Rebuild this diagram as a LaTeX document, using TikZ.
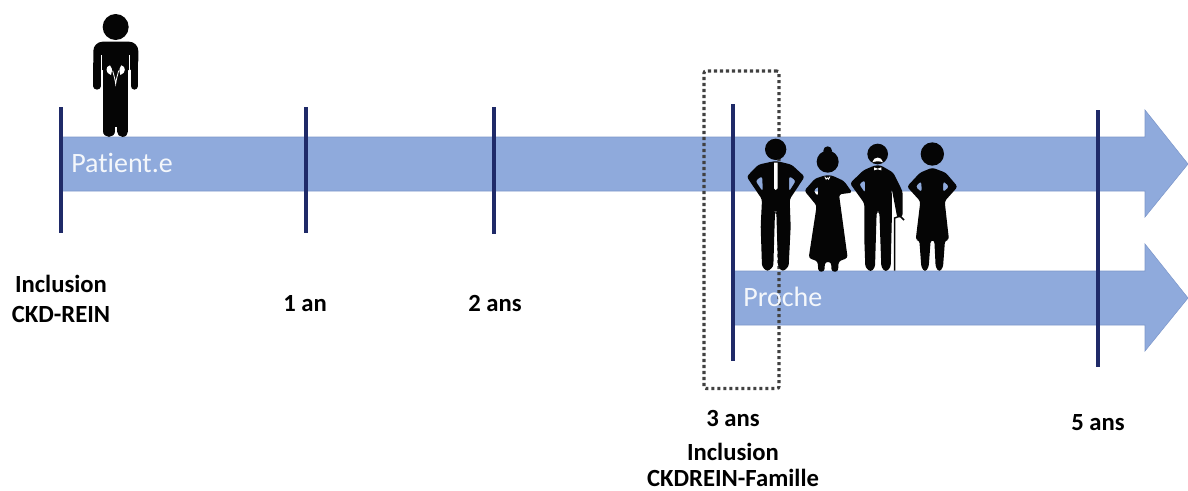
\documentclass[tikz,border=0pt]{standalone}
\usepackage{fontspec}
\setmainfont[Ligatures=NoCommon]{Carlito}
\definecolor{bandblue}{HTML}{8FAADC}
\definecolor{bandedge}{HTML}{7D97CA}
\definecolor{ticknavy}{HTML}{1F2A68}
\definecolor{boxgrey}{HTML}{404040}
\definecolor{figblack}{HTML}{050505}
\tikzset{
  x=0.75pt,y=-0.75pt,
  band/.style={fill=bandblue,draw=bandedge,line width=0.4pt},
  tick/.style={draw=ticknavy,line width=2.3pt},
  datelabel/.style={font=\fontsize{18.5pt}{22pt}\selectfont\bfseries,text=black,inner sep=0pt,anchor=base},
  bandlabel/.style={font=\fontsize{21pt}{25pt}\selectfont,text=white!90!bandblue,inner sep=0pt,anchor=base west},
  fig/.style={fill=figblack,draw=none,even odd rule,rounded corners=2pt},
  figwhite/.style={fill=white,draw=none},
  selbox/.style={draw=boxgrey,line width=2.3pt,dash pattern=on 2.3pt off 2.2pt,rounded corners=1.5pt,outer sep=0pt,inner sep=0pt}
}
\begin{document}
\begin{tikzpicture}
\useasboundingbox (0,0) rectangle (1188,490);
% arrows
\draw[band] (62,137) -- (1145,137) -- (1145,110) -- (1188,164) -- (1145,217) -- (1145,191) -- (62,191) -- cycle;
\draw[band] (733,271) -- (1145,271) -- (1145,244) -- (1188,298) -- (1145,351) -- (1145,325) -- (733,325) -- cycle;
% selection box
\node[selbox,minimum width=56.25pt,minimum height=238.1pt] (sel) at (741.5,229.75) {};
% ticks
\foreach \n/\x/\a/\b in {t0/61/107/233,t1/306/107/233,t2/494/107/234,t3/733/104/361,t5/1098/110/367}{
  \coordinate (\n a) at (\x,\a);
  \coordinate (\n b) at (\x,\b);
  \draw[tick] (\n a) -- (\n b);
}
% labels
\node[bandlabel] (patient) at (71,172.7) {Patient.e};
\node[bandlabel] (proche) at (743,306.7) {Proche};
\node[datelabel] (l0a) at (61,292) {Inclusion};
\node[datelabel] (l0b) at (61,322) {CKD-REIN};
\node[datelabel] (l1) at (305,311) {1 an};
\node[datelabel] (l2) at (495,311) {2 ans};
\node[datelabel] (l3) at (733,426) {3 ans};
\node[datelabel] (l3b) at (733,460) {Inclusion};
\node[datelabel] (l3c) at (733,486.5) {CKDREIN-Famille};
\node[datelabel] (l5) at (1098,430) {5 ans};
% patient figure
\begin{scope}[shift={(60,0)},scale=1/3]
  \fill[figblack] (167,81) circle (39);
  \fill[figblack,rounded corners=7pt] (100,210) -- (100,125) -- (235,125) -- (235,210) -- cycle;
  \draw[figblack,line width=5.5pt,line cap=round] (111,190) -- (111,258);
  \draw[figblack,line width=5.5pt,line cap=round] (223,190) -- (223,258);
  \fill[figblack] (130,150) rectangle (205,380);
  \draw[figblack,line width=8.4pt,line cap=round] (147,300) -- (147,394);
  \draw[figblack,line width=8.4pt,line cap=round] (188,300) -- (188,394);
  \draw[white,line width=1pt] (125,165) -- (125,272);
  \draw[white,line width=1pt] (208,165) -- (208,272);
  \fill[figwhite] (150,196) .. controls (136,198) and (135,220) .. (153,225) .. controls (152,216) and (162,212) .. (150,196) -- cycle;
  \fill[figwhite] (184,196) .. controls (198,198) and (199,220) .. (181,225) .. controls (182,216) and (172,212) .. (184,196) -- cycle;
  \draw[white,line width=0.6pt] (158,212) .. controls (161,225) and (165,235) .. (167,252) .. controls (169,235) and (173,225) .. (176,212);
\end{scope}
% family
\begin{scope}[shift={(690,60)},scale=1/3]
  % man
  \fill[figblack] (257,268) circle (32);
  \fill[fig] (250,304) -- (205,314) -- (170,350) -- (216,418) -- (212,500) -- (216,620) -- (232,635) -- (250,620) -- (255,455) -- (259,455) -- (264,620) -- (278,635) -- (296,620) -- (302,500) -- (299,418) -- (344,350) -- (305,314) -- (264,304) -- cycle
    (217,348) -- (196,362) -- (218,395) -- cycle
    (297,348) -- (318,362) -- (297,395) -- cycle;
  \fill[figwhite] (252,308) -- (263,308) -- (263,385) -- (257,390) -- (252,385) -- cycle;
  % woman
  \fill[figblack] (413,305) circle (33);
  \fill[figblack] (413,272) circle (13);
  \fill[fig] (405,346) -- (375,356) -- (343,392) -- (380,437) -- (356,594) -- (383,604) -- (385,635) -- (403,635) -- (405,606) -- (423,606) -- (425,635) -- (444,635) -- (446,604) -- (473,594) -- (447,403) -- (487,398) -- (462,363) -- (425,346) -- cycle
    (385,378) -- (370,393) -- (384,409) -- cycle;
  \fill[figwhite] (403,350) -- (408,360) -- (412,355) -- (416,360) -- (421,350) -- (418,350) -- (415,355) -- (412,352) -- (408,355) -- (406,350) -- cycle;
  % old man
  \fill[figblack] (563,282) circle (31);
  \fill[figwhite] (547,307) .. controls (550,288) and (576,288) .. (579,307) .. controls (570,303) and (556,303) .. (547,307) -- cycle;
  \fill[fig] (555,316) -- (520,331) -- (480,370) -- (523,430) -- (523,540) -- (526,622) -- (542,636) -- (555,622) -- (560,455) -- (568,455) -- (574,622) -- (587,636) -- (602,622) -- (606,455) -- (605,385) -- (622,474) -- (638,470) -- (638,395) -- (610,338) -- (572,316) -- cycle
    (525,360) -- (507,372) -- (525,399) -- cycle;
  \fill[figwhite] (552,322) -- (563,326) -- (574,322) -- (574,331) -- (563,328) -- (552,331) -- cycle;
  \draw[figblack,line width=1.1pt] (614,632) -- (614,474) -- (630,468) -- (642,480);
  % woman 2
  \fill[figblack] (727,282) circle (35);
  \fill[fig] (727,323) -- (690,338) -- (651,380) -- (691,424) -- (677,540) -- (688,541) -- (694,622) -- (705,636) -- (716,622) -- (722,541) -- (733,541) -- (737,622) -- (748,636) -- (759,622) -- (765,541) -- (777,540) -- (764,424) -- (803,380) -- (767,338) -- cycle
    (694,363) -- (676,380) -- (695,397) -- cycle
    (760,363) -- (778,380) -- (759,397) -- cycle;
\end{scope}
\end{tikzpicture}
\end{document}
